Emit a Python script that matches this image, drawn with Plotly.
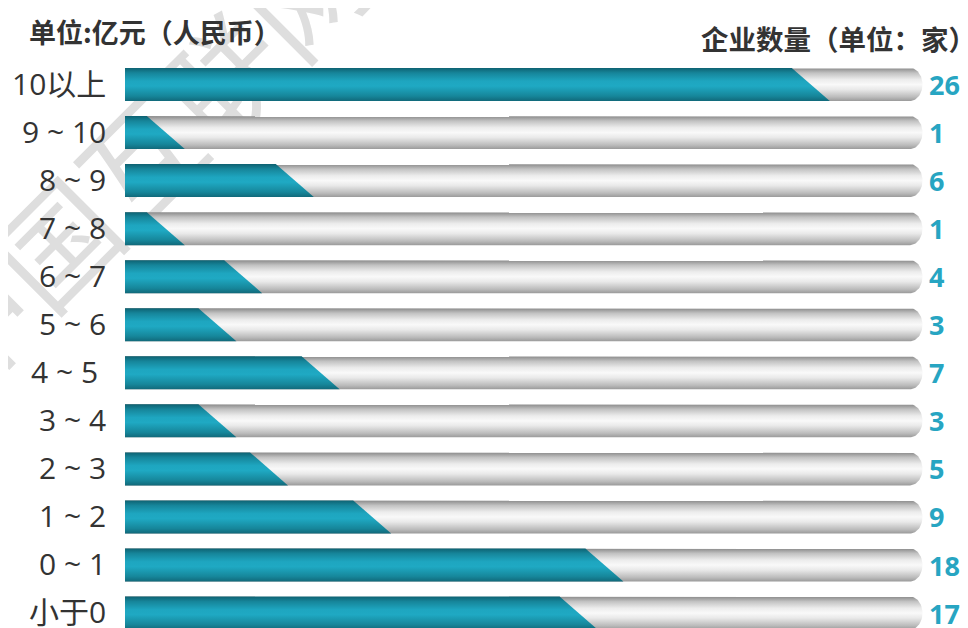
import numpy as np
import plotly.graph_objects as go

# ---- data ----
categories = ["10以上", "9 ~ 10", "8 ~ 9", "7 ~ 8", "6 ~ 7", "5 ~ 6",
              "4 ~ 5\u00a0", "3 ~ 4", "2 ~ 3", "1 ~ 2", "0 ~ 1", "小于0"]
counts = [26, 1, 6, 1, 4, 3, 7, 3, 5, 9, 18, 17]
header_left = "单位:亿元（人民币）"
header_right = "企业数量（单位：家）"
watermark = "中国互联网"

# ---- style constants (page pixels; the page body has an 8px margin) ----
PAGE_OFF = 8
W, H = 968 - PAGE_OFF, 628 - PAGE_OFF
L = 125 - PAGE_OFF
PX_PER_UNIT = 25.8
ROW0_PX, ROW_STEP = 84.5 - PAGE_OFF, 48.05
HALF_H = 16.5 / ROW_STEP          # bar half height in row units
SLANT = 38 / PX_PER_UNIT          # slanted end width (data units)
OFFSET = 15 / PX_PER_UNIT
TRACK_END = (910 - 125) / PX_PER_UNIT
CAP_RX = 12.5 / PX_PER_UNIT
FONT = "Open Sans, Noto Sans CJK SC, sans-serif"
TEAL = "#27a5c2"


def px_x(p):  # page pixel -> paper x
    return (p - PAGE_OFF - L) / (W - L)


def px_y(p):  # page pixel -> paper y
    return 1 - (p - PAGE_OFF) / H


teal_scale = [[0, "#11697a"], [0.15, "#16869a"], [0.45, "#1fa9c3"],
              [0.6, "#1ea6c0"], [0.85, "#16859a"], [1, "#0e6272"]]
gray_scale = [[0, "#9a9a9a"], [0.12, "#bbbbbb"], [0.35, "#e9e9e9"],
              [0.5, "#f9f9f9"], [0.65, "#ececec"], [0.85, "#c2c2c2"], [1, "#8a8a8a"]]

fig = go.Figure()
rows = list(range(len(categories)))

for i, v in zip(rows, counts):
    top, bot = i - HALF_H, i + HALF_H
    t = np.linspace(-np.pi / 2, np.pi / 2, 40)
    cx = TRACK_END + CAP_RX * np.cos(t)
    cy = i + HALF_H * np.sin(t)
    xs = [0] + list(cx) + [0, 0]
    ys = [top] + list(cy) + [bot, top]
    fig.add_trace(go.Scatter(x=xs, y=ys, mode="lines", fill="toself",
                             line=dict(width=0), fillgradient=dict(type="vertical", colorscale=gray_scale),
                             hoverinfo="skip", showlegend=False))
    xt = v + OFFSET - SLANT / 2
    xb = v + OFFSET + SLANT / 2
    fig.add_trace(go.Scatter(x=[0, xt, xb, 0, 0], y=[top, top, bot, bot, top],
                             mode="lines", fill="toself", line=dict(width=0),
                             fillgradient=dict(type="vertical", colorscale=teal_scale),
                             hoverinfo="skip", showlegend=False))

annotations = []
for i, (c, v) in enumerate(zip(categories, counts)):
    annotations.append(dict(text=c, xref="paper", yref="y", x=px_x(108), y=i - 0.03,
                            xanchor="right", yanchor="middle", showarrow=False,
                            font=dict(family=FONT, size=30, color="#333333")))
    annotations.append(dict(text=f"<b>{v}</b>", xref="paper", yref="y", x=px_x(927), y=i,
                            xanchor="left", yanchor="middle", showarrow=False,
                            font=dict(family=FONT, size=27, color=TEAL)))

annotations.append(dict(text=f"<b>{header_left}</b>", xref="paper", yref="paper",
                        x=px_x(27), y=px_y(31), xanchor="left", yanchor="middle",
                        showarrow=False, font=dict(family="Noto Sans CJK SC", size=27, color="#333333")))
annotations.append(dict(text=f"<b>{header_right}</b>", xref="paper", yref="paper",
                        x=px_x(699), y=px_y(38), xanchor="left", yanchor="middle",
                        showarrow=False, font=dict(family="Noto Sans CJK SC", size=27.5, color="#333333")))

shapes = [dict(type="rect", xref="paper", yref="paper",
               x0=px_x(0), x1=px_x(300), y0=px_y(340), y1=px_y(0),
               line=dict(width=0), fillcolor="rgba(0,0,0,0)", layer="below",
               label=dict(text=watermark, textangle=-45, textposition="middle center",
                          font=dict(family="Noto Sans CJK SC", size=118, color="#dedede")))]

fig.update_layout(
    width=W, height=H,
    margin=dict(l=L, r=0, t=0, b=0),
    paper_bgcolor="white", plot_bgcolor="rgba(0,0,0,0)",
    xaxis=dict(range=[0, (W - L) / PX_PER_UNIT], visible=False, fixedrange=True),
    yaxis=dict(range=[(H - ROW0_PX) / ROW_STEP, -ROW0_PX / ROW_STEP], visible=False, fixedrange=True),
    annotations=annotations,
    shapes=shapes,
)

fig.write_html("out.html")
